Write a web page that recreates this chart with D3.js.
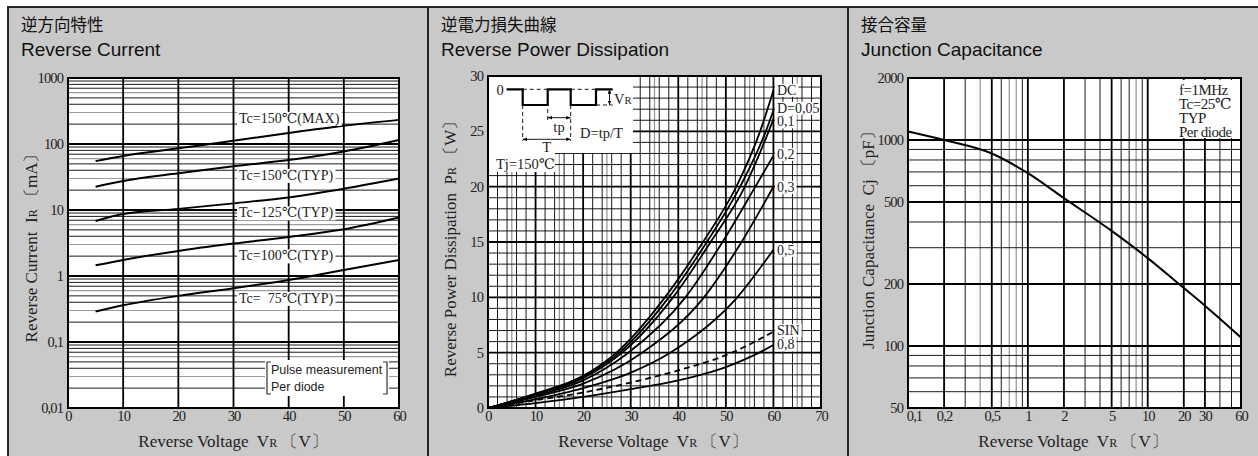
<!DOCTYPE html>
<html>
<head>
<meta charset="utf-8">
<script src="https://cdn.jsdelivr.net/npm/d3@7"></script>
<style>
  body { margin: 0; background: #fff; }
  svg { display: block; }
  text { white-space: pre; }
</style>
</head>
<body>
<script>
// ---------- data ----------
// Reverse current IR [mA] vs VR [V]
var rcVolt = [5, 10, 20, 30, 40, 50, 60];
var rc150Max = [55, 66, 86, 112, 147, 189, 232];
var rc150Typ = [22.5, 27.5, 36, 46, 57, 77, 115];
var rc125Typ = [6.8, 8.7, 10.4, 12.6, 15.5, 21, 30];
var rc100Typ = [1.45, 1.75, 2.4, 3.1, 3.9, 5.1, 7.7];
var rc75Typ = [0.29, 0.36, 0.5, 0.65, 0.87, 1.23, 1.75];
var rcNames = ["Tc=150℃(MAX)", "Tc=150℃(TYP)", "Tc−125℃(TYP)", "Tc=100℃(TYP)", "Tc=  75℃(TYP)"];
var rcXTicks = [0, 10, 20, 30, 40, 50, 60];
var rcYTicks = [0.01, 0.1, 1, 10, 100, 1000];

// Reverse power dissipation PR [W] vs VR [V], pairs [VR, PR]
var pdNames = ["DC", "D=0,05", "0,1", "0,2", "0,3", "0,5", "SIN", "0,8"];
var pdDC = [[0,0],[10,1.3],[20,2.9],[27,5],[37.2,10],[45.2,15],[52.2,20],[57.2,25],[60,28.7]];
var pdD005 = [[0,0],[10,1.25],[20,2.8],[27.6,5],[38,10],[46,15],[53,20],[58.4,25],[60,26.9]];
var pdD01 = [[0,0],[10,1.2],[20,2.7],[28.2,5],[38.9,10],[46.8,15],[54,20],[59,25],[60,26.1]];
var pdD02 = [[0,0],[10,1.1],[20,2.5],[29.5,5],[41.5,10],[49.3,15],[56.2,20],[60,22.8]];
var pdD03 = [[0,0],[10,1.0],[20,2.2],[32.4,5],[45.4,10],[53.3,15],[60,20]];
var pdD05 = [[0,0],[10,0.8],[20,1.8],[30,3.2],[38.3,5],[52.4,10],[60,14.3]];
var pdSin = [[0,0],[10,0.7],[20,1.4],[30,2.3],[40,3.4],[51.3,5],[60,6.9]];
var pdD08 = [[0,0],[10,0.45],[20,1.0],[30,1.7],[40,2.5],[50,3.7],[57,5],[60,5.7]];
var pdXTicks = [0, 10, 20, 30, 40, 50, 60, 70];
var pdYTicks = [0, 5, 10, 15, 20, 25, 30];

// Junction capacitance Cj [pF] vs VR [V]
var cjVolt = [0.1, 0.2, 0.5, 1, 2, 5, 10, 20, 30, 60];
var cjPf = [1100, 1000, 860, 690, 522, 362, 267, 191, 157, 110];
var cjXTicks = [0.1, 0.2, 0.5, 1, 2, 5, 10, 20, 30, 60];
var cjYTicks = [50, 100, 200, 500, 1000, 2000];
var cjNotes = ["f=1MHz", "Tc=25℃", "TYP", "Per diode"];

// ---------- drawing ----------
var serif = "'Liberation Serif','DejaVu Serif',serif";
var sans = "'Liberation Sans',Arial,sans-serif";
var cjk = "'Noto Sans CJK JP',sans-serif";
var comma = function(d) { return String(d).replace(".", ","); };

var svg = d3.select("body").append("svg")
    .attr("width", 1258)
    .attr("height", 456);
svg.append("rect").attr("width", 1258).attr("height", 456).attr("fill", "#fff");

function panel(x0, x1, jp, en) {
    svg.append("rect")
        .attr("x", x0).attr("y", 7)
        .attr("width", x1 - x0).attr("height", 460)
        .attr("fill", "#c9c9c9")
        .attr("stroke", "#262626").attr("stroke-width", 2);
    svg.append("text").attr("x", x0 + 13).attr("y", 31)
        .attr("font-family", cjk).attr("font-size", 16.5).attr("fill", "#111").text(jp);
    svg.append("text").attr("x", x0 + 13).attr("y", 56)
        .attr("font-family", sans).attr("font-size", 19).attr("fill", "#111").text(en);
}

function xTitle(cx) {
    var t = svg.append("text").attr("x", cx).attr("y", 447)
        .attr("text-anchor", "middle").attr("font-family", serif)
        .attr("font-size", 17).attr("fill", "#222");
    t.append("tspan").text("Reverse Voltage  V");
    t.append("tspan").attr("font-size", 12).text("R");
    t.append("tspan").text(" 〔V〕");
}

function yTitle(cx, cy, main, sub, unit) {
    var t = svg.append("text")
        .attr("transform", "translate(" + cx + "," + cy + ") rotate(-90)")
        .attr("text-anchor", "middle").attr("dy", "0.35em")
        .attr("font-family", serif).attr("font-size", 17).attr("fill", "#222");
    t.append("tspan").text(main);
    if (sub) t.append("tspan").attr("font-size", 12).text(sub);
    t.append("tspan").text(" " + unit);
}

function hLines(g, y, x0, x1, values, color, w) {
    g.selectAll(null).data(values).enter().append("line")
        .attr("x1", x0).attr("x2", x1)
        .attr("y1", function(d) { return y(d); })
        .attr("y2", function(d) { return y(d); })
        .attr("stroke", color).attr("stroke-width", w);
}
function vLines(g, x, y0, y1, values, color, w) {
    g.selectAll(null).data(values).enter().append("line")
        .attr("y1", y0).attr("y2", y1)
        .attr("x1", function(d) { return x(d); })
        .attr("x2", function(d) { return x(d); })
        .attr("stroke", color).attr("stroke-width", w);
}

function axes(x, y, xt, yt, fmt) {
    var r = y.range();
    var d = x.range();
    var gx = svg.append("g").attr("transform", "translate(0," + r[0] + ")")
        .call(d3.axisBottom(x).tickValues(xt).tickFormat(fmt).tickSize(0).tickPadding(3));
    var gy = svg.append("g").attr("transform", "translate(" + d[0] + ",0)")
        .call(d3.axisLeft(y).tickValues(yt).tickFormat(fmt).tickSize(0).tickPadding(5));
    [gx, gy].forEach(function(g) {
        g.select(".domain").remove();
        g.selectAll("text").attr("font-family", serif).attr("font-size", 14.5)
            .attr("fill", "#222").attr("letter-spacing", -0.9);
    });
    return gx;
}

function labelBox(g, x, y, txt, size, anchor) {
    var t = g.append("text").attr("x", x).attr("y", y).attr("dy", "0.35em")
        .attr("font-family", serif).attr("font-size", size)
        .attr("text-anchor", anchor || "start").attr("fill", "#222").text(txt);
    var b = t.node().getBBox();
    g.insert("rect", function() { return t.node(); })
        .attr("x", b.x - 2).attr("y", b.y + 1)
        .attr("width", b.width + 4).attr("height", b.height - 2)
        .attr("fill", "#fff");
    return t;
}

function border(x, y) {
    var d = x.range(), r = y.range();
    svg.append("rect").attr("x", d[0]).attr("y", r[1])
        .attr("width", d[1] - d[0]).attr("height", r[0] - r[1])
        .attr("fill", "none").attr("stroke", "#000").attr("stroke-width", 2);
}

panel(8, 428, "逆方向特性", "Reverse Current");
panel(428, 848, "逆電力損失曲線", "Reverse Power Dissipation");
panel(848, 1262, "接合容量", "Junction Capacitance");

// ===== panel 1 : reverse current =====
var x1s = d3.scaleLinear().domain([0, 60]).range([68, 399]);
var y1s = d3.scaleLog().domain([0.01, 1000]).range([408, 78]);
var g1 = svg.append("g");
g1.append("rect").attr("x", 68).attr("y", 78).attr("width", 331).attr("height", 330).attr("fill", "#fff");
var minorGray = [], minorBlack = [];
[0.01, 0.1, 1, 10, 100].forEach(function(dec) {
    for (var k = 2; k <= 9; k++) {
        (k === 3 || k === 6 ? minorGray : minorBlack).push(dec * k);
    }
});
hLines(g1, y1s, 68, 399, minorGray, "#9a9a9a", 1.2);
hLines(g1, y1s, 68, 399, minorBlack, "#000", 0.9);
hLines(g1, y1s, 68, 399, rcYTicks, "#000", 2);
vLines(g1, x1s, 78, 408, rcXTicks, "#000", 1.8);

var line1 = d3.line()
    .x(function(d) { return x1s(d[0]); })
    .y(function(d) { return y1s(d[1]); })
    .curve(d3.curveMonotoneX);
[rc150Max, rc150Typ, rc125Typ, rc100Typ, rc75Typ].forEach(function(s) {
    g1.append("path")
        .datum(rcVolt.map(function(v, i) { return [v, s[i]]; }))
        .attr("d", line1).attr("fill", "none")
        .attr("stroke", "#000").attr("stroke-width", 2);
});
var rcLabelY = [118, 175, 212.5, 255.5, 298];
rcNames.forEach(function(n, i) { labelBox(g1, 239, rcLabelY[i], n, 14); });

// pulse measurement note
var note = g1.append("g");
note.append("rect").attr("x", 265).attr("y", 360).attr("width", 124).attr("height", 36).attr("fill", "#fff");
note.append("path")
    .attr("d", "M271,362 H267 V394 H271 M383,362 H387 V394 H383")
    .attr("fill", "none").attr("stroke", "#333").attr("stroke-width", 1.2);
note.append("text").attr("x", 271).attr("y", 370).attr("dy", "0.35em")
    .attr("font-family", sans).attr("font-size", 12.5).attr("fill", "#222").text("Pulse measurement");
note.append("text").attr("x", 271).attr("y", 387).attr("dy", "0.35em")
    .attr("font-family", sans).attr("font-size", 12.5).attr("fill", "#222").text("Per diode");

border(x1s, y1s);
axes(x1s, y1s, rcXTicks, rcYTicks, comma);
xTitle(233);
yTitle(31, 244, "Reverse Current  I", "R", "〔mA〕");

// ===== panel 2 : reverse power dissipation =====
var x2s = d3.scaleLinear().domain([0, 70]).range([488, 821]);
var y2s = d3.scaleLinear().domain([0, 30]).range([408, 76]);
var g2 = svg.append("g");
g2.append("rect").attr("x", 488).attr("y", 76).attr("width", 333).attr("height", 332).attr("fill", "#fff");
var v2gray = d3.range(5, 70, 10);
var v2thin = d3.range(2, 70, 2).filter(function(v) { return v % 10 !== 0; });
var h2thin = d3.range(1, 30, 1).filter(function(v) { return v % 5 !== 0; });
vLines(g2, x2s, 76, 408, v2gray, "#9a9a9a", 1.3);
vLines(g2, x2s, 76, 408, v2thin, "#000", 0.9);
hLines(g2, y2s, 488, 821, h2thin, "#000", 0.9);
vLines(g2, x2s, 76, 408, pdXTicks, "#000", 1.8);
hLines(g2, y2s, 488, 821, pdYTicks, "#000", 1.8);

// inset: pulse waveform
var ins = g2.append("g");
ins.append("rect").attr("x", 488).attr("y", 76).attr("width", 145).attr("height", 77).attr("fill", "#fff");
ins.append("rect").attr("x", 489).attr("y", 152).attr("width", 66).attr("height", 20).attr("fill", "#fff");
var defs = svg.append("defs");
defs.append("marker").attr("id", "ah").attr("viewBox", "0 0 10 10")
    .attr("refX", 10).attr("refY", 5).attr("markerWidth", 5).attr("markerHeight", 5)
    .attr("orient", "auto-start-reverse")
    .append("path").attr("d", "M0,1 L10,5 L0,9 z").attr("fill", "#000");
ins.append("path")
    .attr("d", "M506.7,89.3 H522.7 V105 H547.7 V89.3 H570.7 V105 H596 V89.3 H612.7")
    .attr("fill", "none").attr("stroke", "#000").attr("stroke-width", 2.2);
ins.append("path")
    .attr("d", "M522.7,89.3 H547.7 M570.7,89.3 H596 M596,105 H612.7 M522.7,105 V141 M570.7,105 V141 M547.7,109 V122")
    .attr("fill", "none").attr("stroke", "#000").attr("stroke-width", 0.9).attr("stroke-dasharray", "4,3");
[[609.5, 89.3, 609.5, 105], [547.7, 117.7, 570.7, 117.7], [522.7, 139.3, 570.7, 139.3]].forEach(function(a) {
    ins.append("line").attr("x1", a[0]).attr("y1", a[1]).attr("x2", a[2]).attr("y2", a[3])
        .attr("stroke", "#000").attr("stroke-width", 0.9)
        .attr("marker-start", "url(#ah)").attr("marker-end", "url(#ah)");
});
function insText(x, y, parts, anchor) {
    var t = ins.append("text").attr("x", x).attr("y", y).attr("dy", "0.35em")
        .attr("font-family", serif).attr("font-size", 14.5).attr("fill", "#222")
        .attr("text-anchor", anchor || "start");
    parts.forEach(function(p) {
        var s = t.append("tspan").text(p[0]);
        if (p[1]) s.attr("font-size", p[1]);
    });
}
insText(500, 90, [["0"]], "middle");
insText(614, 98.5, [["V"], ["R", 10.5]]);
insText(559, 127, [["tp"]], "middle");
insText(546.7, 147, [["T"]], "middle");
insText(580, 133, [["D=tp/T"]]);
insText(496, 164, [["Tj=150℃"]]);

var line2 = d3.line()
    .x(function(d) { return x2s(d[0]); })
    .y(function(d) { return y2s(d[1]); })
    .curve(d3.curveMonotoneX);
var pdSeries = [pdDC, pdD005, pdD01, pdD02, pdD03, pdD05, pdSin, pdD08];
pdSeries.forEach(function(s, i) {
    g2.append("path").datum(s).attr("d", line2).attr("fill", "none")
        .attr("stroke", "#000").attr("stroke-width", 1.8)
        .attr("stroke-dasharray", pdNames[i] === "SIN" ? "6,4" : null);
});
var pdLabelY = [90, 108, 121.5, 154, 187, 250, 330, 344.5];
pdNames.forEach(function(n, i) { labelBox(g2, 777, pdLabelY[i], n, 14); });

border(x2s, y2s);
axes(x2s, y2s, pdXTicks, pdYTicks, comma);
xTitle(653);
yTitle(450, 245, "Reverse Power Dissipation  P", "R", "〔W〕");

// ===== panel 3 : junction capacitance =====
var x3s = d3.scaleLog().domain([0.1, 60]).range([908, 1241]);
var y3s = d3.scaleLog().domain([50, 2000]).range([408, 78]);
var g3 = svg.append("g");
g3.append("rect").attr("x", 908).attr("y", 78).attr("width", 333).attr("height", 330).attr("fill", "#fff");
vLines(g3, x3s, 78, 408, [0.4, 0.7, 0.8, 8], "#9a9a9a", 1.3);
vLines(g3, x3s, 78, 408, [0.3, 0.6, 0.9, 3, 4, 6, 7, 9, 40, 50], "#000", 0.9);
hLines(g3, y3s, 908, 1241, [60, 70, 80, 90, 300, 400, 600, 700, 800, 900], "#000", 0.9);
vLines(g3, x3s, 78, 408, [0.2, 0.5, 1, 2, 5, 10, 20, 30], "#000", 1.8);
hLines(g3, y3s, 908, 1241, [100, 200, 500, 1000], "#000", 1.8);

var line3 = d3.line()
    .x(function(d) { return x3s(d[0]); })
    .y(function(d) { return y3s(d[1]); })
    .curve(d3.curveMonotoneX);
g3.append("path")
    .datum(cjVolt.map(function(v, i) { return [v, cjPf[i]]; }))
    .attr("d", line3).attr("fill", "none")
    .attr("stroke", "#000").attr("stroke-width", 2);

g3.append("rect").attr("x", 1177).attr("y", 80).attr("width", 62).attr("height", 58).attr("fill", "#fff");
cjNotes.forEach(function(n, i) {
    g3.append("text").attr("x", 1179).attr("y", 89.5 + i * 14).attr("dy", "0.35em")
        .attr("font-family", serif).attr("font-size", 15).attr("fill", "#222")
        .attr("letter-spacing", -0.5).text(n);
});

border(x3s, y3s);
var ax3 = axes(x3s, y3s, cjXTicks, cjYTicks, comma);
// first label sits just right of the 0,1 line, as in the original
ax3.selectAll(".tick text").filter(function(d) { return d === 0.1; }).attr("dx", 6);
xTitle(1073);
yTitle(868, 236, "Junction Capacitance  Cj", null, "〔pF〕");
</script>
</body>
</html>
